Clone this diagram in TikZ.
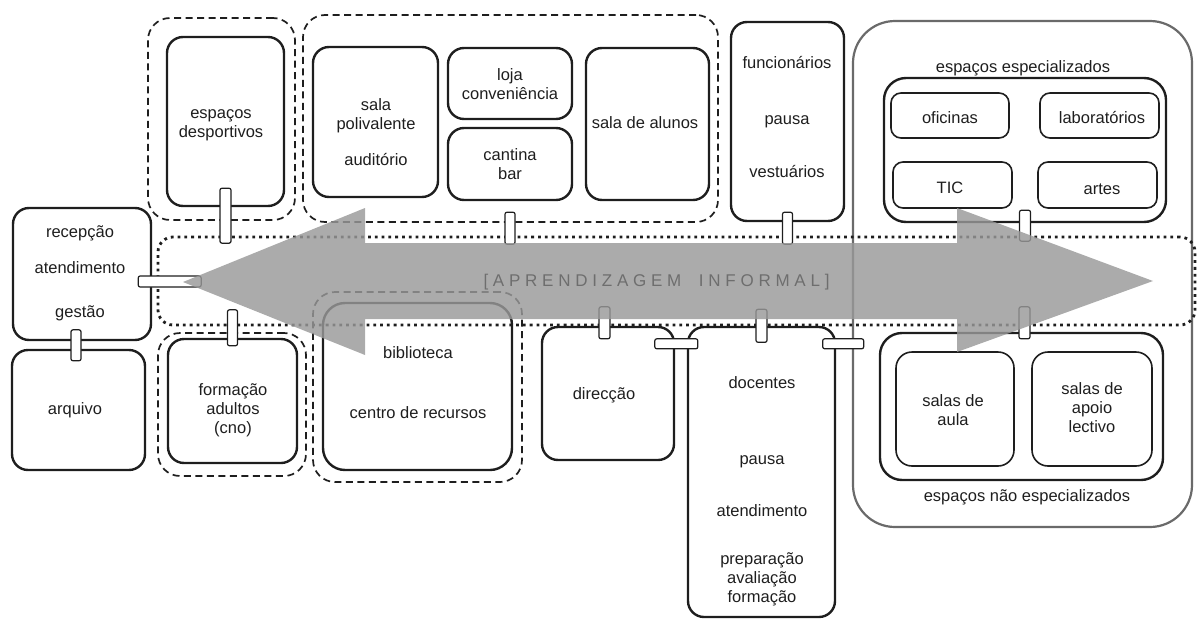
\documentclass[tikz,border=0pt]{standalone}
\usepackage{fontspec}
\setmainfont{Liberation Sans}
\newfontfamily\bandfont[LetterSpace=28]{Liberation Sans}
\usepackage{xcolor}
\usepackage{tikz}
\tikzset{every picture/.append style={font=\fontsize{16.5}{19}\selectfont}}
\definecolor{figink}{HTML}{1E1E1E}
\definecolor{figarrow}{HTML}{999999}
\definecolor{figframe}{HTML}{6A6A6A}
\definecolor{figlabel}{HTML}{6E6E6E}
\tikzset{
  room/.style 2 args={draw=figink,line width=2.4pt,rounded corners=16pt,minimum width=#1pt,minimum height=#2pt,inner sep=0pt},
  cell/.style 2 args={draw=figink,line width=1.6pt,rounded corners=10pt,minimum width=#1pt,minimum height=#2pt,inner sep=0pt},
  zone/.style 2 args={draw=figink,line width=1.7pt,dash pattern=on 7pt off 4.5pt,rounded corners=22pt,minimum width=#1pt,minimum height=#2pt,inner sep=0pt},
  peg/.style 2 args={draw=figink,fill=white,line width=1.2pt,rounded corners=2pt,minimum width=#1pt,minimum height=#2pt,inner sep=0pt},
  band/.style={draw=figink,line width=2.8pt,dash pattern=on 2.8pt off 4pt,rounded corners=15pt,minimum width=1037pt,minimum height=88pt,inner sep=0pt},
  frame/.style={draw=figframe,line width=2.2pt,rounded corners=42pt,minimum width=339pt,minimum height=506pt,inner sep=0pt},
  txt/.style={text=figink,align=center,inner sep=0pt},
}

\begin{document}
\begin{tikzpicture}[x=1pt,y=-1pt]
  \useasboundingbox (0,0) rectangle (1197,624);
  \node[frame] (spec) at (1022.5,274) {};
  \node[zone={147}{202}] (gDesp) at (221.5,119) {};
  \node[zone={415}{207}] (gSoc) at (510.5,118.5) {};
  \node[zone={148}{143}] (gForm) at (232,404.5) {};
  \node[zone={209}{190}] (gBibl) at (417.5,387) {};
  \node[band] (band) at (676.5,281) {};

  \node[room={117}{169}] (desp) at (225.5,121.5) {};
  \node[room={125}{150}] (poli) at (375.5,122) {};
  \node[room={124}{71}] (loja) at (510,83.5) {};
  \node[room={124}{72}] (cant) at (510,164) {};
  \node[room={123}{152}] (alun) at (647.5,124) {};
  \node[room={113}{199}] (func) at (787.5,121.5) {};
  \node[room={282}{144},rounded corners=22pt] (espc) at (1025,150) {};
  \node[cell={118}{45}] (ofic) at (950,115.5) {};
  \node[cell={119}{45}] (labo) at (1099.5,115.5) {};
  \node[cell={119}{46}] (tic) at (952.5,185) {};
  \node[cell={119}{46}] (arte) at (1097.5,185) {};
  \node[room={138}{132}] (recp) at (82,274) {};
  \node[room={133}{120}] (arqv) at (78.5,410) {};
  \node[room={129}{124}] (form) at (232.5,401) {};
  \node[room={189}{167},rounded corners=22pt] (bibl) at (417.5,386.5) {};
  \node[room={132}{133}] (dirc) at (608,393.5) {};
  \node[room={147}{290}] (doce) at (761.5,472) {};
  \node[room={283}{147},rounded corners=22pt] (nesp) at (1021.5,406.5) {};
  \node[cell={118}{114},rounded corners=16pt] (aula) at (955,409) {};
  \node[cell={120}{114},rounded corners=16pt] (apoi) at (1092,409) {};

  \node[peg={11}{55}] (pDesp) at ([yshift=-8.5pt]desp.south) {};
  \node[peg={10}{32}] (pSoc) at ([yshift=-27pt]cant.south) {};
  \node[peg={10}{32}] (pFunc) at ([yshift=-6pt]func.south) {};
  \node[peg={11}{31}] (pEspc) at ([yshift=-2.5pt]espc.south) {};
  \node[peg={63}{11}] (pRecp) at ([xshift=17.5pt,yshift=-7.5pt]recp.east) {};
  \node[peg={10}{31}] (pArqv) at ([xshift=-2.5pt,yshift=3.5pt]arqv.north) {};
  \node[peg={10}{36}] (pForm) at ([yshift=10pt]form.north) {};
  \node[peg={11}{32}] (pDirc) at ([xshift=-3.5pt,yshift=3pt]dirc.north) {};
  \node[peg={11}{33}] (pDoce) at (doce.north) {};
  \node[peg={43}{10}] (pDirDoc) at ([xshift=-10.5pt,yshift=-18pt]doce.north west) {};
  \node[peg={41}{10}] (pDocNesp) at ([xshift=7pt,yshift=-18pt]doce.north east) {};
  \node[peg={11}{32}] (pNesp) at ([xshift=3pt,yshift=9pt]nesp.north) {};

  \fill[figarrow,opacity=0.82] (183,282) -- (365,208) -- (365,243) -- (957,243) -- (957,208)
    -- (1153,281) -- (957,352) -- (957,319) -- (365,319) -- (365,355) -- cycle;

  \node[txt] (tDesp) at (221,125) {espaços\\desportivos};
  \node[txt] (tPoli) at (376,132) {sala\\polivalente\\[17pt]auditório};
  \node[txt] (tLoja) at (510,84) {loja\\conveniência};
  \node[txt] (tCant) at (510,164) {cantina\\bar};
  \node[txt] (tAlun) at (645,123) {sala de alunos};
  \node[txt] (tFunc) at (787,117.5) {funcionários\\[37pt]pausa\\[34pt]vestuários};
  \node[txt] (tEspc) at (1023,68) {espaços especializados};
  \node[txt] (tOfic) at (950,118) {oficinas};
  \node[txt] (tLabo) at (1102,118) {laboratórios};
  \node[txt] (tTic) at (950,188) {TIC};
  \node[txt] (tArte) at (1102,189) {artes};
  \node[txt] (tRecp) at (80,273) {recepção\\[17pt]atendimento\\[25pt]gestão};
  \node[txt] (tArqv) at (75,410) {arquivo};
  \node[txt] (tForm) at (233,410) {formação\\adultos\\(cno)};
  \node[txt] (tBib1) at (418,353) {biblioteca};
  \node[txt] (tBib2) at (418,413) {centro de recursos};
  \node[txt] (tDirc) at (604,395) {direcção};
  \node[txt] (tDoc1) at (762,383) {docentes};
  \node[txt] (tDoc2) at (762,462) {pausa};
  \node[txt] (tDoc3) at (762,511) {atendimento};
  \node[txt] (tDoc4) at (762,579) {preparação\\avaliação\\formação};
  \node[txt] (tAula) at (953,410) {salas de\\aula};
  \node[txt] (tApoi) at (1092,408) {salas de\\apoio\\lectivo};
  \node[txt] (tNesp) at (1027,497) {espaços não especializados};
  \node[text=figlabel,inner sep=0pt,font=\bandfont\fontsize{17}{19}\selectfont] (tBand) at (656.5,282) {[APRENDIZAGEM\hspace{8pt} INFORMAL]};
\end{tikzpicture}
\end{document}
